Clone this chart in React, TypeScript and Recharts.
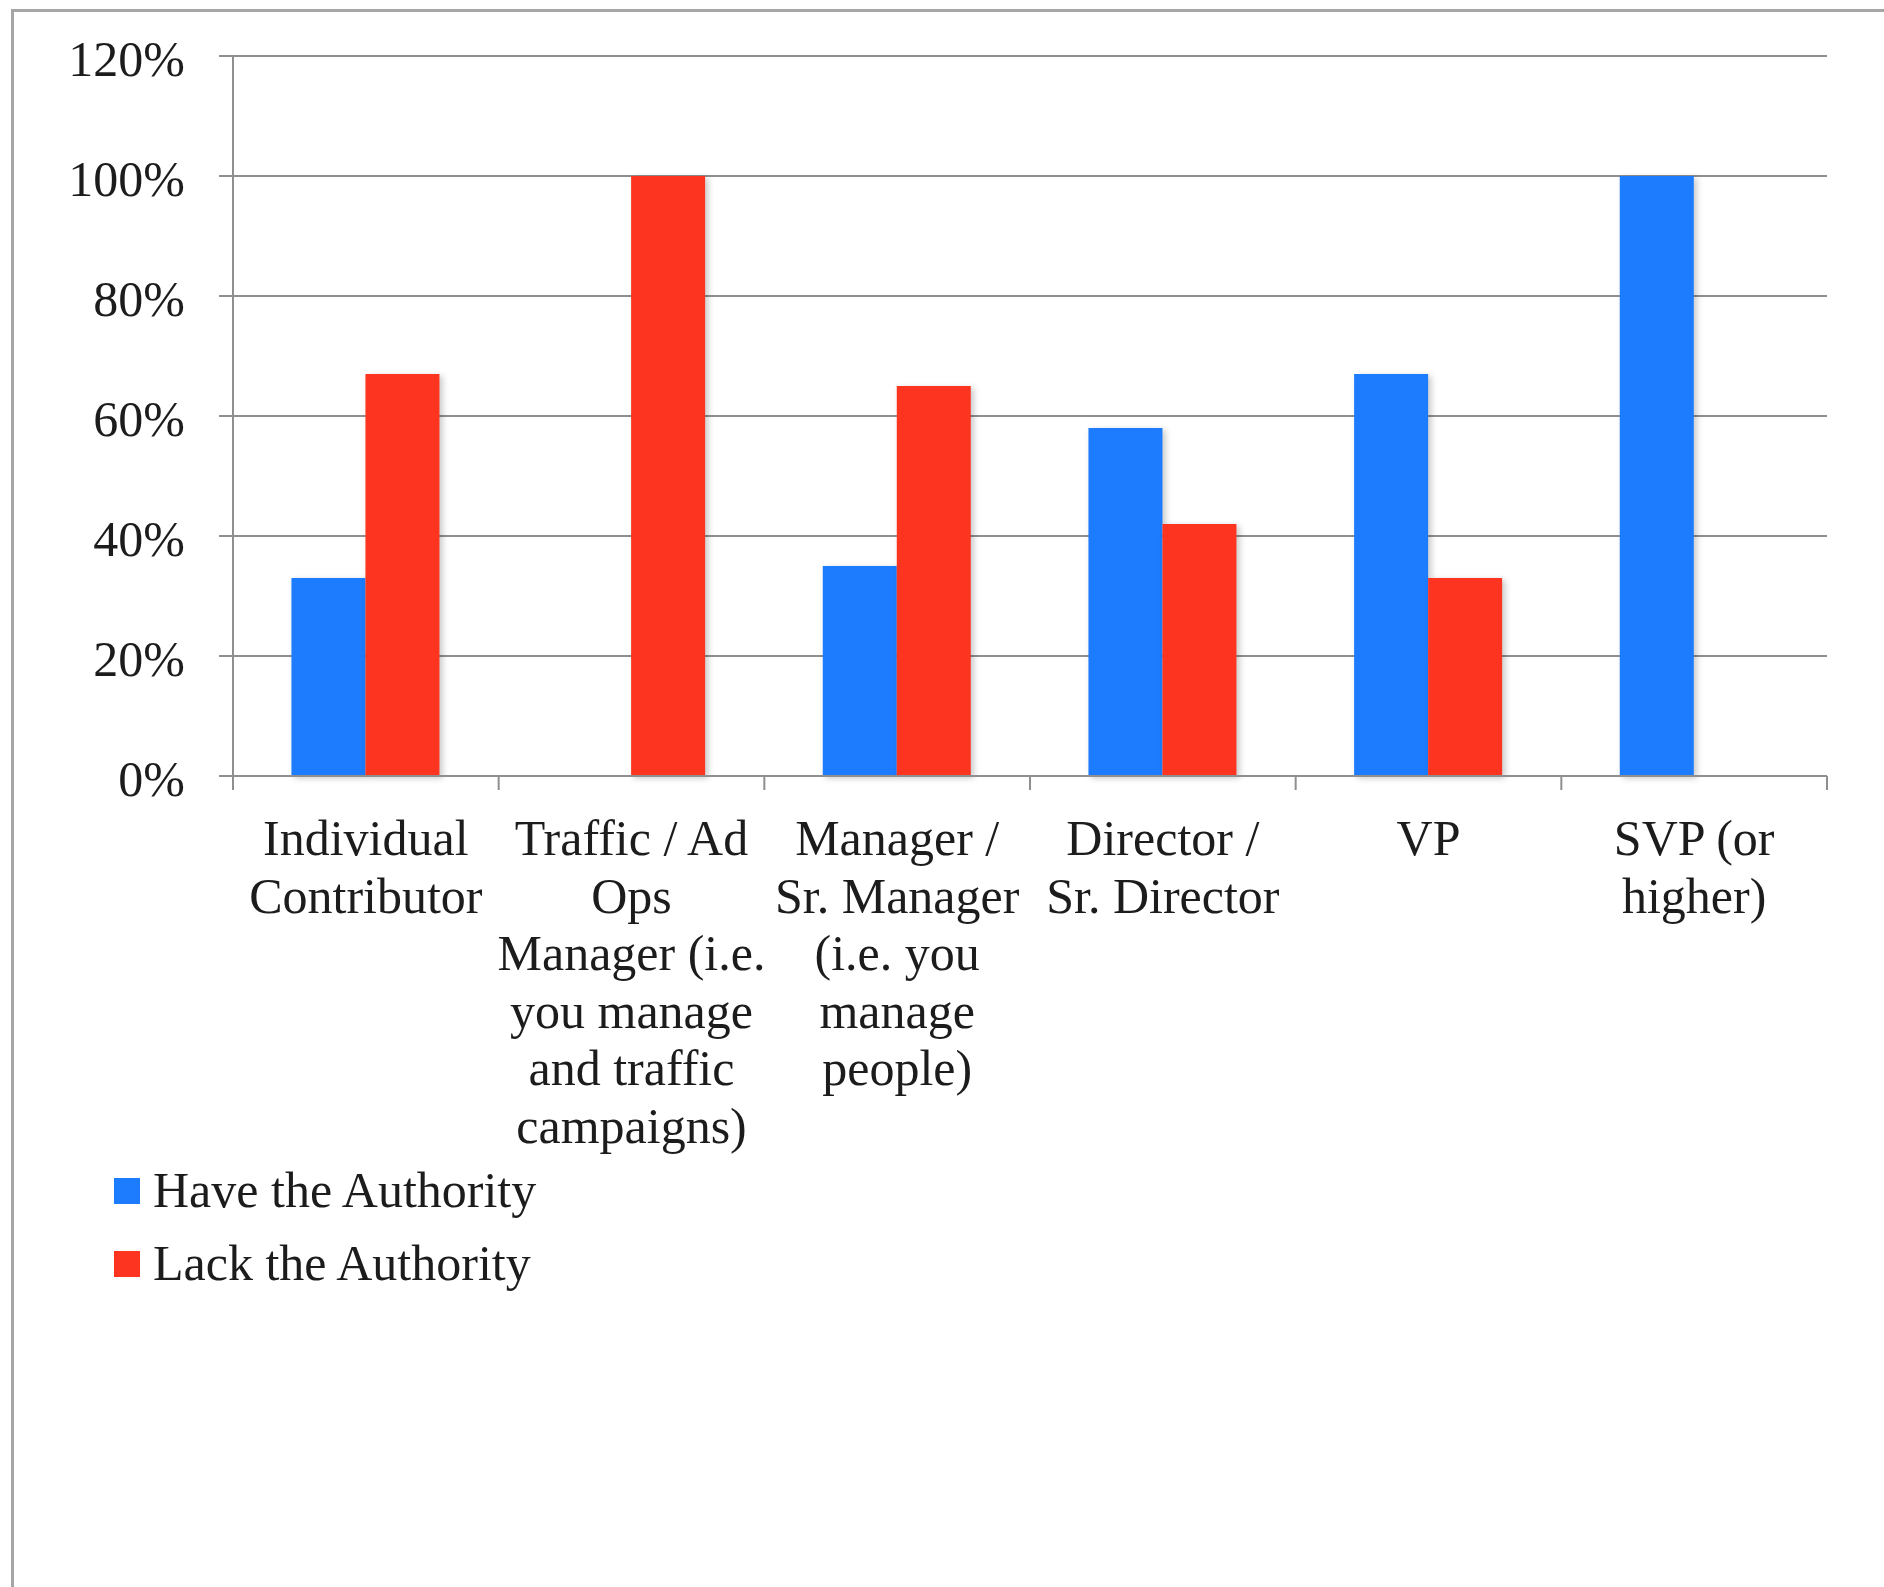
import { BarChart, Bar, XAxis, YAxis, CartesianGrid, Legend } from 'recharts';

const categories = [
  'Individual\nContributor',
  'Traffic / Ad\nOps\nManager (i.e.\nyou manage\nand traffic\ncampaigns)',
  'Manager /\nSr. Manager\n(i.e. you\nmanage\npeople)',
  'Director /\nSr. Director',
  'VP',
  'SVP (or\nhigher)',
];
const haveAuthority = [33, 0, 35, 58, 67, 100];
const lackAuthority = [67, 100, 65, 42, 33, 0];
const yTicks = [0, 20, 40, 60, 80, 100, 120];
const seriesNames = ['Have the Authority', 'Lack the Authority'];

const data = categories.map((category, i) => ({
  category,
  have: haveAuthority[i],
  lack: lackAuthority[i],
}));

const BLUE = '#1c7cfd';
const RED = '#fd3520';
const GRID = '#8f8f8f';
const FONT = '"Liberation Serif", "Times New Roman", serif';
const TEXT = '#1c1c1c';

// page is 1884 wide; the chart sits at the body's 8px margin
const PAGE_W = 1876;
const PAGE_H = 1579;
const W = 1868;
const H = 1571;
const MARGIN = { top: 48, right: 49, left: 0, bottom: 0 };
const Y_WIDTH = 225;
const PLOT_H = 720;

const XTick = (props: any) => {
  const { x, y, payload, index } = props;
  const half = payload.offset ?? (W - MARGIN.right - Y_WIDTH) / categories.length / 2;
  const lines = String(payload.value).split('\n');
  return (
    <g>
      <line x1={x - half} x2={x - half} y1={y} y2={y + 14} stroke={GRID} strokeWidth={2} />
      {index === categories.length - 1 && (
        <line x1={x + half} x2={x + half} y1={y} y2={y + 14} stroke={GRID} strokeWidth={2} />
      )}
      <text x={x} y={y + 79} textAnchor="middle" fill={TEXT} fontFamily={FONT} fontSize={50}>
        {lines.map((line, i) => (
          <tspan key={i} x={x} dy={i === 0 ? 0 : 57.5}>
            {line}
          </tspan>
        ))}
      </text>
    </g>
  );
};

const YTick = (props: any) => {
  const { x, y, payload } = props;
  return (
    <text x={x} y={y} dy={20} textAnchor="end" fill={TEXT} fontFamily={FONT} fontSize={50}>
      {payload.value}%
    </text>
  );
};

const LegendBox = (props: any) => {
  const items = props.payload || [];
  return (
    <div style={{ fontFamily: FONT, fontSize: 50, color: TEXT }}>
      {items.map((item: any) => (
        <div key={item.value} style={{ display: 'flex', alignItems: 'center', height: 73, lineHeight: '73px' }}>
          <span style={{ width: 26, height: 26, background: item.color, marginRight: 13, display: 'inline-block' }} />
          <span>{item.value}</span>
        </div>
      ))}
    </div>
  );
};

export default function App() {
  return (
    <div style={{ position: 'absolute', width: PAGE_W, height: PAGE_H, overflow: 'hidden', background: '#fff' }}>
      <div
        style={{
          position: 'absolute',
          left: 3,
          top: 1,
          width: PAGE_W,
          height: PAGE_H,
          borderLeft: '3px solid #a6a6a6',
          borderTop: '3px solid #a6a6a6',
        }}
      />
      <div style={{ position: 'absolute', left: 0, top: 0 }}>
        <BarChart width={W} height={H} data={data} margin={MARGIN} barCategoryGap="22%" barGap={0}>
          <CartesianGrid vertical={false} stroke={GRID} strokeWidth={2} />
          <XAxis
            dataKey="category"
            height={H - MARGIN.top - PLOT_H}
            interval={0}
            tickLine={false}
            tickSize={0}
            tickMargin={0}
            axisLine={{ stroke: GRID, strokeWidth: 2 }}
            tick={<XTick />}
          />
          <YAxis
            width={Y_WIDTH}
            domain={[0, 120]}
            ticks={yTicks}
            interval={0}
            tickSize={14}
            tickMargin={34}
            tickLine={{ stroke: GRID, strokeWidth: 2 }}
            axisLine={{ stroke: GRID, strokeWidth: 2 }}
            tick={<YTick />}
          />
          <Legend
            layout="vertical"
            align="center"
            verticalAlign="middle"
            wrapperStyle={{ left: 106, top: 1146, width: 600 }}
            content={<LegendBox />}
          />
          <Bar
            dataKey="have"
            name={seriesNames[0]}
            fill={BLUE}
            isAnimationActive={false}
            style={{ filter: 'drop-shadow(3px 2px 3px rgba(0,0,0,0.22))' }}
          />
          <Bar
            dataKey="lack"
            name={seriesNames[1]}
            fill={RED}
            isAnimationActive={false}
            style={{ filter: 'drop-shadow(3px 2px 3px rgba(0,0,0,0.22))' }}
          />
        </BarChart>
      </div>
    </div>
  );
}
